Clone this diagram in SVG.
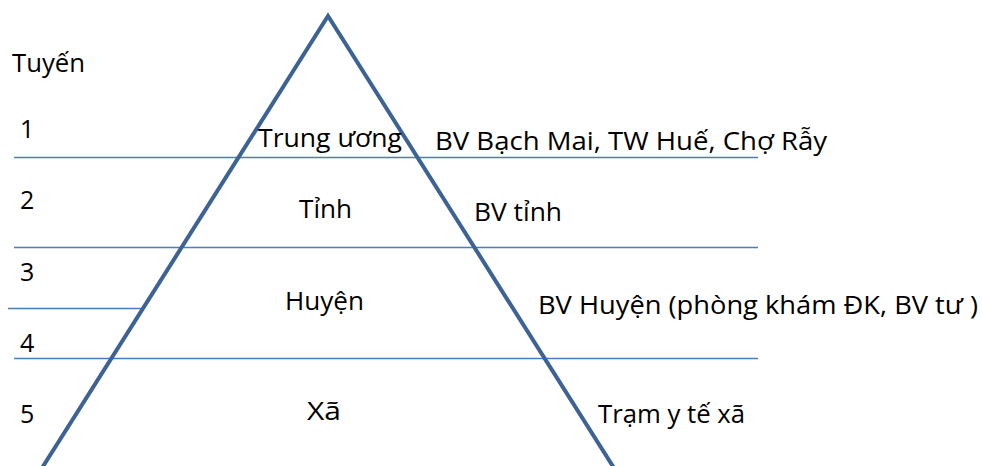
<svg xmlns="http://www.w3.org/2000/svg" width="982" height="466" viewBox="0 0 982 466">
  <style>
    .tier { stroke: #4a7ebb; stroke-width: 1.5; fill: none; }
    .pyramid { stroke: #3d6296; stroke-width: 4; fill: none; stroke-linejoin: miter; }
    text { font-family: "Open Sans", "Noto Sans", sans-serif; font-size: 25px; fill: #000; }
  </style>
  <rect width="982" height="466" fill="#ffffff"/>

  <!-- tier separators -->
  <g id="connectors">
    <line class="tier" x1="14" y1="157.5" x2="758" y2="157.5"/>
    <line class="tier" x1="14" y1="247.5" x2="758" y2="247.5"/>
    <line class="tier" x1="8" y1="308.5" x2="141" y2="308.5"/>
    <line class="tier" x1="14" y1="358.5" x2="758" y2="358.5"/>
  </g>

  <!-- pyramid outline -->
  <g id="pyramid">
    <polyline class="pyramid" points="42,468 328,16 614,468"/>
  </g>

  <!-- level numbers -->
  <g id="levels">
    <text x="12" y="72" textLength="73" lengthAdjust="spacingAndGlyphs">Tuyến</text>
    <text x="20" y="138">1</text>
    <text x="20" y="209">2</text>
    <text x="20" y="281">3</text>
    <text x="20" y="352">4</text>
    <text x="20" y="423">5</text>
  </g>

  <g id="tier-central">
    <text x="258" y="147" textLength="144" lengthAdjust="spacingAndGlyphs">Trung ương</text>
    <text x="435" y="150" textLength="392" lengthAdjust="spacingAndGlyphs">BV Bạch Mai, TW Huế, Chợ Rẫy</text>
  </g>

  <g id="tier-province">
    <text x="299" y="218" textLength="53" lengthAdjust="spacingAndGlyphs">Tỉnh</text>
    <text x="474" y="221" textLength="88" lengthAdjust="spacingAndGlyphs">BV tỉnh</text>
  </g>

  <g id="tier-district">
    <text x="285" y="310" textLength="79" lengthAdjust="spacingAndGlyphs">Huyện</text>
    <text x="538" y="314" textLength="440" lengthAdjust="spacingAndGlyphs">BV Huyện (phòng khám ĐK, BV tư )</text>
  </g>

  <g id="tier-commune">
    <text x="307" y="420" textLength="34" lengthAdjust="spacingAndGlyphs">Xã</text>
    <text x="598" y="423" textLength="147" lengthAdjust="spacingAndGlyphs">Trạm y tế xã</text>
  </g>
</svg>
